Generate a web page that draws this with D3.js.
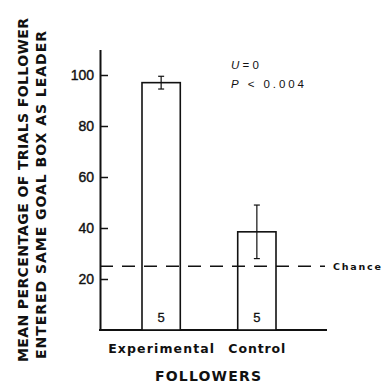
<!DOCTYPE html>
<html>
<head>
<meta charset="utf-8">
<script src="https://cdn.jsdelivr.net/npm/d3@7"></script>
<style>
	body { margin: 0; background: #fff; }
	svg text { font-family: "Liberation Sans", Arial, sans-serif; fill: #111; }
	svg text.heavy { font-family: "DejaVu Sans", sans-serif; font-weight: bold; }
</style>
</head>
<body>
<svg id="chart" width="385" height="388"></svg>
<script>
'use strict';

// data
var categories = ['Experimental', 'Control'];
var means = [97, 38.5];
var errors = [2.5, 10.5];
var counts = [5, 5];
var chance = 25;
var yTicks = [20, 40, 60, 80, 100];

var svg = d3.select('#chart');

var y = d3.scaleLinear().domain([0, 110]).range([330, 49.5]);
var x = d3.scaleBand().domain(categories).range([142, 276]).paddingInner(0.6);

var axisX = 100, axisEnd = 327;

// y axis, ticks point inward
var yAxis = svg.append('g')
	.attr('transform', 'translate(' + axisX + ',0)')
	.call(d3.axisLeft(y)
		.tickValues(yTicks)
		.tickSizeInner(-8)
		.tickSizeOuter(0)
		.tickPadding(6));
yAxis.select('.domain').attr('stroke', '#111').attr('stroke-width', 2);
yAxis.selectAll('.tick line').attr('stroke', '#111').attr('stroke-width', 1.5);
yAxis.selectAll('.tick text')
	.attr('font-size', 14)
	.attr('font-family', '"Liberation Sans", Arial, sans-serif')
	.attr('fill', '#111')
	.attr('stroke', '#111')
	.attr('stroke-width', 0.4);

// baseline
svg.append('line')
	.attr('x1', axisX - 1).attr('x2', axisEnd)
	.attr('y1', y(0)).attr('y2', y(0))
	.attr('stroke', '#111').attr('stroke-width', 2);

// bars
var rows = categories.map(function(c, i) {
	return { cat: c, mean: means[i], err: errors[i], n: counts[i] };
});

svg.selectAll('rect.bar')
	.data(rows)
	.enter()
	.append('rect')
	.attr('class', 'bar')
	.attr('x', function(d) { return x(d.cat); })
	.attr('y', function(d) { return y(d.mean); })
	.attr('width', x.bandwidth())
	.attr('height', function(d) { return y(0) - y(d.mean); })
	.attr('fill', '#fff')
	.attr('stroke', '#111')
	.attr('stroke-width', 1.6);

// chance line (drawn over bars, as in the figure)
svg.append('line')
	.attr('x1', axisX).attr('x2', 325)
	.attr('y1', y(chance)).attr('y2', y(chance))
	.attr('stroke', '#111').attr('stroke-width', 1.6)
	.attr('stroke-dasharray', '13,9');

svg.append('text')
	.attr('class', 'heavy')
	.attr('x', 333).attr('y', y(chance) + 3.5)
	.attr('font-size', 9.5)
	.attr('textLength', 48)
	.text('Chance');

// error bars
var eb = svg.selectAll('g.err')
	.data(rows)
	.enter()
	.append('g')
	.attr('class', 'err')
	.attr('transform', function(d) { return 'translate(' + (x(d.cat) + x.bandwidth() / 2) + ',0)'; })
	.attr('stroke', '#111')
	.attr('stroke-width', 1.2);
eb.append('line')
	.attr('y1', function(d) { return y(d.mean + d.err); })
	.attr('y2', function(d) { return y(d.mean - d.err); });
eb.append('line')
	.attr('x1', -3).attr('x2', 3)
	.attr('y1', function(d) { return y(d.mean + d.err); })
	.attr('y2', function(d) { return y(d.mean + d.err); });
eb.append('line')
	.attr('x1', -3).attr('x2', 3)
	.attr('y1', function(d) { return y(d.mean - d.err); })
	.attr('y2', function(d) { return y(d.mean - d.err); });

// n inside bars
svg.selectAll('text.n')
	.data(rows)
	.enter()
	.append('text')
	.attr('class', 'n')
	.attr('x', function(d) { return x(d.cat) + x.bandwidth() / 2; })
	.attr('y', 322)
	.attr('text-anchor', 'middle')
	.attr('font-size', 13)
	.attr('stroke', '#111')
	.attr('stroke-width', 0.3)
	.text(function(d) { return d.n; });

// category labels
var catWidths = [106, 57];
svg.selectAll('text.cat')
	.data(categories)
	.enter()
	.append('text')
	.attr('class', 'cat heavy')
	.attr('x', function(d) { return x(d) + x.bandwidth() / 2; })
	.attr('y', 353)
	.attr('text-anchor', 'middle')
	.attr('font-size', 12.5)
	.attr('textLength', function(d, i) { return catWidths[i]; })
	.text(function(d) { return d; });

svg.append('text')
	.attr('class', 'heavy')
	.attr('x', 208).attr('y', 381)
	.attr('text-anchor', 'middle')
	.attr('font-size', 14)
	.attr('textLength', 106)
	.text('FOLLOWERS');

// y title, two lines
var yTitle = ['MEAN PERCENTAGE OF TRIALS FOLLOWER', 'ENTERED SAME GOAL BOX AS LEADER'];
var yTitleLen = [344, 328];
svg.selectAll('text.ytitle')
	.data(yTitle)
	.enter()
	.append('text')
	.attr('class', 'ytitle heavy')
	.attr('transform', function(d, i) { return 'translate(' + (28 + i * 18) + ',' + (190 + i * 5) + ') rotate(-90)'; })
	.attr('text-anchor', 'middle')
	.attr('font-size', 14)
	.attr('textLength', function(d, i) { return yTitleLen[i]; })
	.text(function(d) { return d; });

// stats
var stat = svg.append('g').attr('font-size', 11.5);
var t1 = stat.append('text').attr('x', 231).attr('y', 69).attr('textLength', 28);
t1.append('tspan').attr('font-style', 'italic').text('U');
t1.append('tspan').text(' = 0');
var t2 = stat.append('text').attr('x', 231).attr('y', 88).attr('textLength', 73);
t2.append('tspan').attr('font-style', 'italic').text('P');
t2.append('tspan').text(' < 0.004');
</script>
</body>
</html>
